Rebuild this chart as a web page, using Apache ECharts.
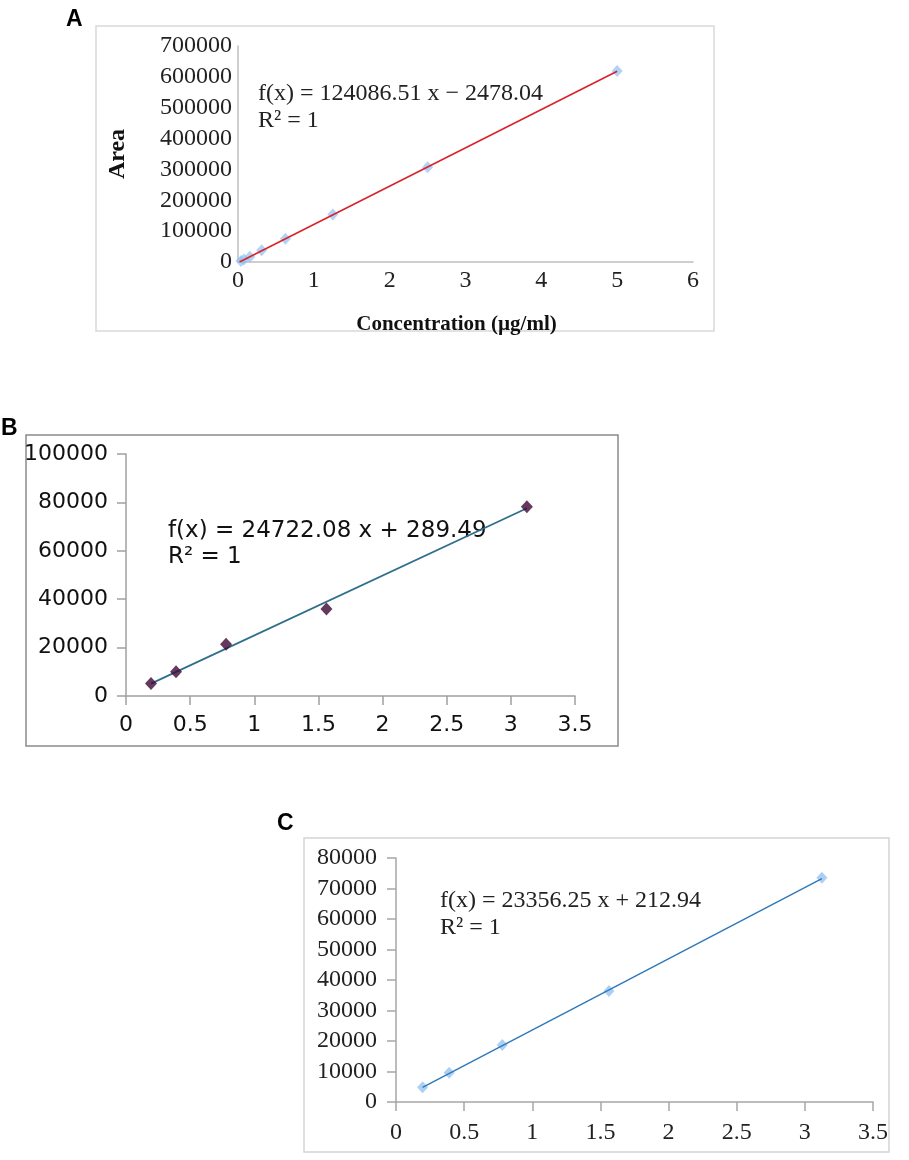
<!DOCTYPE html>
<html>
<head>
<meta charset="utf-8">
<script src="https://cdn.jsdelivr.net/npm/echarts@6/dist/echarts.min.js"></script>
<style>
  html, body { margin: 0; padding: 0; background: #fff; }
  #main { width: 909px; height: 1160px; }
</style>
</head>
<body>
<div id="main"></div>
<script>
// panel A - concentration vs area
var concA = [0.039, 0.078, 0.156, 0.3125, 0.625, 1.25, 2.5, 5];
var areaA = [3000, 8000, 17000, 38000, 75000, 154000, 307000, 619000];
var trendAx = [0.02, 5];
var trendAy = [0, 618000];
var eqA = ['f(x) = 124086.51 x \u2212 2478.04', 'R\u00b2 = 1'];

// panel B
var concB = [0.195, 0.39, 0.78, 1.5625, 3.125];
var areaB = [5200, 10000, 21400, 36000, 78200];
var trendBx = [0.195, 3.125];
var trendBy = [5100, 77600];
var eqB = ['f(x) = 24722.08 x + 289.49', 'R\u00b2 = 1'];

// panel C
var concC = [0.195, 0.39, 0.78, 1.5625, 3.125];
var areaC = [4800, 9600, 18700, 36400, 73500];
var trendCx = [0.195, 3.125];
var trendCy = [4800, 73200];
var eqC = ['f(x) = 23356.25 x + 212.94', 'R\u00b2 = 1'];

function pairs(xs, ys) {
    return xs.map(function (x, i) { return [x, ys[i]]; });
}
function plain(v) { return String(v); }

var serif = 'Liberation Serif';
var sans = 'DejaVu Sans';

var chart = echarts.init(document.getElementById('main'), null, {renderer: 'canvas'});

var option = {
    backgroundColor: '#fff',
    animation: false,
    grid: [
        {left: 238, top: 46, width: 455, height: 216},
        {left: 126, top: 454, width: 449, height: 242},
        {left: 396, top: 858, width: 477, height: 244}
    ],
    xAxis: [
        {
            gridIndex: 0, type: 'value', min: 0, max: 6, interval: 1,
            splitLine: {show: false},
            axisLine: {lineStyle: {color: '#bfbfbf', width: 1.5}},
            axisTick: {show: false},
            axisLabel: {color: '#222', fontFamily: serif, fontSize: 24, margin: 7, formatter: plain},
            name: 'Concentration (\u00b5g/ml)', nameLocation: 'middle', nameGap: 52,
            nameTextStyle: {color: '#111', fontFamily: serif, fontSize: 21, fontWeight: 'bold', padding: [0, 18, 0, 0]}
        },
        {
            gridIndex: 1, type: 'value', min: 0, max: 3.5, interval: 0.5,
            splitLine: {show: false},
            axisLine: {lineStyle: {color: '#a0a0a0', width: 1.5}},
            axisTick: {show: true, inside: false, length: 9, lineStyle: {color: '#a0a0a0', width: 1.5}},
            axisLabel: {color: '#111', fontFamily: sans, fontSize: 22, margin: 18, formatter: plain}
        },
        {
            gridIndex: 2, type: 'value', min: 0, max: 3.5, interval: 0.5,
            splitLine: {show: false},
            axisLine: {lineStyle: {color: '#a6a6a6', width: 1.5}},
            axisTick: {show: true, inside: false, length: 9, lineStyle: {color: '#a6a6a6', width: 1.5}},
            axisLabel: {color: '#222', fontFamily: serif, fontSize: 24, margin: 19, formatter: plain}
        }
    ],
    yAxis: [
        {
            gridIndex: 0, type: 'value', min: 0, max: 700000, interval: 100000,
            splitLine: {show: false},
            axisLine: {show: true, lineStyle: {color: '#bfbfbf', width: 1.5}},
            axisTick: {show: false},
            axisLabel: {color: '#222', fontFamily: serif, fontSize: 24, margin: 6, formatter: plain},
            name: 'Area', nameLocation: 'middle', nameGap: 108, nameRotate: 90,
            nameTextStyle: {color: '#111', fontFamily: serif, fontSize: 24, fontWeight: 'bold'}
        },
        {
            gridIndex: 1, type: 'value', min: 0, max: 100000, interval: 20000,
            splitLine: {show: false},
            axisLine: {show: true, lineStyle: {color: '#a0a0a0', width: 1.5}},
            axisTick: {show: true, inside: false, length: 9, lineStyle: {color: '#a0a0a0', width: 1.5}},
            axisLabel: {color: '#111', fontFamily: sans, fontSize: 22, margin: 18, formatter: plain}
        },
        {
            gridIndex: 2, type: 'value', min: 0, max: 80000, interval: 10000,
            splitLine: {show: false},
            axisLine: {show: true, lineStyle: {color: '#a6a6a6', width: 1.5}},
            axisTick: {show: true, inside: false, length: 9, lineStyle: {color: '#a6a6a6', width: 1.5}},
            axisLabel: {color: '#222', fontFamily: serif, fontSize: 24, margin: 19, formatter: plain}
        }
    ],
    series: [
        {
            type: 'scatter', xAxisIndex: 0, yAxisIndex: 0, z: 2,
            data: pairs(concA, areaA), symbol: 'diamond', symbolSize: [11, 12],
            itemStyle: {color: 'rgba(140,190,240,0.85)'}
        },
        {
            type: 'line', xAxisIndex: 0, yAxisIndex: 0, z: 3,
            data: pairs(trendAx, trendAy), symbol: 'none',
            lineStyle: {color: '#d9232b', width: 1.6}
        },
        {
            type: 'line', xAxisIndex: 1, yAxisIndex: 1, z: 2,
            data: pairs(trendBx, trendBy), symbol: 'none',
            lineStyle: {color: '#2f6f8c', width: 1.8}
        },
        {
            type: 'scatter', xAxisIndex: 1, yAxisIndex: 1, z: 3,
            data: pairs(concB, areaB), symbol: 'diamond', symbolSize: [12, 13],
            itemStyle: {color: '#3f0836'}
        },
        {
            type: 'scatter', xAxisIndex: 2, yAxisIndex: 2, z: 2,
            data: pairs(concC, areaC), symbol: 'diamond', symbolSize: [11, 12],
            itemStyle: {color: 'rgba(140,190,240,0.9)'}
        },
        {
            type: 'line', xAxisIndex: 2, yAxisIndex: 2, z: 3,
            data: pairs(trendCx, trendCy), symbol: 'none',
            lineStyle: {color: '#2e78b8', width: 1.4}
        }
    ],
    graphic: [
        // frames
        {type: 'rect', shape: {x: 96, y: 26, width: 618, height: 305}, style: {fill: 'none', stroke: '#d9d9d9', lineWidth: 1.5}, silent: true},
        {type: 'rect', shape: {x: 26, y: 435, width: 592, height: 311}, style: {fill: 'none', stroke: '#8a8a8a', lineWidth: 1.5}, silent: true},
        {type: 'rect', shape: {x: 304, y: 838, width: 585, height: 314}, style: {fill: 'none', stroke: '#d4d4d4', lineWidth: 1.5}, silent: true},
        // panel letters
        {type: 'text', left: 66, top: 8, style: {text: 'A', font: 'bold 23px "Liberation Sans"', fill: '#000'}},
        {type: 'text', left: 1, top: 417, style: {text: 'B', font: 'bold 23px "Liberation Sans"', fill: '#000'}},
        {type: 'text', left: 277, top: 812, style: {text: 'C', font: 'bold 23px "Liberation Sans"', fill: '#000'}},
        // trendline equations
        {type: 'text', left: 258, top: 82, style: {text: eqA[0], font: '24px "Liberation Serif"', fill: '#222'}},
        {type: 'text', left: 258, top: 109, style: {text: eqA[1], font: '24px "Liberation Serif"', fill: '#222'}},
        {type: 'text', left: 168, top: 520, style: {text: eqB[0], font: '23px "DejaVu Sans"', fill: '#111'}},
        {type: 'text', left: 168, top: 546, style: {text: eqB[1], font: '23px "DejaVu Sans"', fill: '#111'}},
        {type: 'text', left: 440, top: 889, style: {text: eqC[0], font: '24px "Liberation Serif"', fill: '#222'}},
        {type: 'text', left: 440, top: 916, style: {text: eqC[1], font: '24px "Liberation Serif"', fill: '#222'}}
    ]
};

chart.setOption(option);
</script>
</body>
</html>
